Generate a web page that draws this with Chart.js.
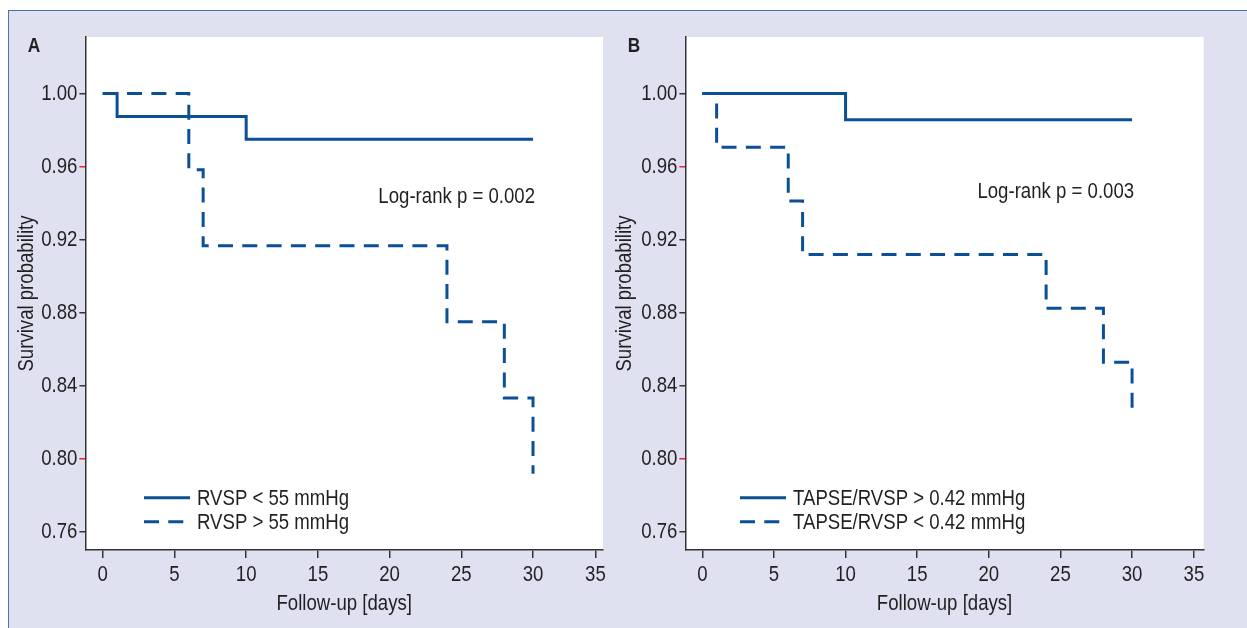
<!DOCTYPE html>
<html><head><meta charset="utf-8">
<script src="https://cdn.jsdelivr.net/npm/chart.js@4.4.0/dist/chart.umd.min.js"></script>
<style>
html,body{margin:0;padding:0;background:#fff;}
#page{position:relative;width:1247px;height:628px;overflow:hidden;background:#fff;}
#bg{position:absolute;left:8px;top:10px;right:0;bottom:0;background:#dfe1f0;border-left:1.5px solid #4a72b0;border-top:1.5px solid #4a72b0;}
canvas{position:absolute;top:0;}
#cA{left:0px;}
#cB{left:600px;}
</style></head>
<body><div id="page"><div id="bg"></div>
<canvas id="cA" width="620" height="628"></canvas>
<canvas id="cB" width="647" height="628"></canvas>
</div>
<script>
// ---- data ----
const xTickLabels = [0, 5, 10, 15, 20, 25, 30, 35];
const yTickValues = [0.76, 0.80, 0.84, 0.88, 0.92, 0.96, 1.00];
const redTickValues = [0.96, 0.80];

const daysA1 = [0, 1, 10, 30];
const survA1 = [1.0, 0.9875, 0.975, 0.975];
const daysA2 = [0, 6, 7, 24, 28, 30];
const survA2 = [1.0, 0.9583, 0.9167, 0.875, 0.8333, 0.7917];
const labelsA = ['RVSP < 55 mmHg', 'RVSP > 55 mmHg'];
const pTextA = 'Log-rank p = 0.002';

const daysB1 = [0, 10, 30];
const survB1 = [1.0, 0.9857, 0.9857];
const daysB2 = [0, 1, 6, 7, 24, 28, 30];
const survB2 = [1.0, 0.9706, 0.9412, 0.9118, 0.8824, 0.8529, 0.8235];
const labelsB = ['TAPSE/RVSP > 0.42 mmHg', 'TAPSE/RVSP < 0.42 mmHg'];
const pTextB = 'Log-rank p = 0.003';

// ---- styles ----
const FONT = "'Liberation Sans', Arial, sans-serif";
const FS = 21.5;
const CONDENSE = 0.865;
const TXT = '#231f20';
const LINE = '#0b4f96';
const AXIS = '#333333';

function pts(xs, ys) { return xs.map((x, i) => ({x: x, y: ys[i]})); }

// narrow-looking text: squeeze glyphs along the text direction
function condense(canvas, k) {
  const ctx = canvas.getContext('2d');
  const orig = ctx.fillText;
  ctx.fillText = function (t, x, y, maxW) {
    this.save();
    this.translate(x, y);
    this.scale(k, 1);
    if (maxW === undefined || maxW === null || !isFinite(maxW)) orig.call(this, t, 0, 0);
    else orig.call(this, t, 0, 0, maxW / k);
    this.restore();
  };
}

const panelPlugin = {
  id: 'panel',
  beforeDraw(chart, args, o) {
    const a = chart.chartArea, ctx = chart.ctx;
    ctx.save();
    ctx.fillStyle = '#ffffff';
    ctx.fillRect(a.left, a.top, a.right - a.left, a.bottom - a.top);
    ctx.restore();
  },
  afterDraw(chart, args, o) {
    const ctx = chart.ctx;
    ctx.save();
    ctx.fillStyle = TXT;
    ctx.font = "bold 20px " + FONT;
    ctx.textAlign = 'center';
    ctx.textBaseline = 'middle';
    ctx.fillText(o.letter, o.letterX, o.letterY);
    const xs = chart.scales.x, ys = chart.scales.y;
    ctx.font = FS + "px " + FONT;
    ctx.textAlign = 'right';
    ctx.fillText(o.pText, xs.getPixelForValue(o.pAt[0]) + o.pDx, ys.getPixelForValue(o.pAt[1]));
    chart.data.datasets.forEach((ds, i) => {
      const y = o.legY + i * o.legGap;
      ctx.beginPath();
      ctx.strokeStyle = ds.borderColor;
      ctx.lineWidth = ds.borderWidth;
      ctx.setLineDash(ds.borderDash || []);
      ctx.moveTo(o.legX, y);
      ctx.lineTo(o.legX + o.legLen, y);
      ctx.stroke();
      ctx.setLineDash([]);
      ctx.textAlign = 'left';
      ctx.fillStyle = TXT;
      ctx.fillText(ds.label, o.legX + o.legLen + 7, y + 1);
    });
    ctx.restore();
  }
};

function makeChart(id, d1, d2, labels, cfg) {
  const canvas = document.getElementById(id);
  condense(canvas, CONDENSE);
  return new Chart(canvas, {
    type: 'line',
    data: {
      datasets: [
        {label: labels[0], data: d1, borderColor: LINE, borderWidth: 3, pointRadius: 0, stepped: true, fill: false, borderCapStyle: 'butt'},
        {label: labels[1], data: d2, borderColor: LINE, borderWidth: 3, borderDash: [15, 9.3], pointRadius: 0, stepped: true, fill: false, borderCapStyle: 'butt'}
      ]
    },
    options: {
      responsive: false,
      animation: false,
      layout: {padding: {top: 37, right: cfg.padRight, bottom: 0, left: 0}},
      plugins: {
        legend: {display: false},
        tooltip: {enabled: false},
        panel: cfg.panel
      },
      scales: {
        x: {
          type: 'linear', min: cfg.xmin, max: cfg.xmax,
          afterFit: s => { s.height = 78; },
          afterBuildTicks: s => { s.ticks = xTickLabels.map(v => ({value: v === 35 ? cfg.x35 : v})); },
          ticks: {
            autoSkip: false, maxRotation: 0, padding: 4, color: TXT,
            font: {family: FONT, size: FS},
            callback: (v, i) => String(xTickLabels[i])
          },
          grid: {display: true, drawOnChartArea: false, drawTicks: true, tickLength: 8, color: AXIS, lineWidth: 1.5},
          border: {display: true, color: AXIS, width: 1.5},
          title: {display: true, text: 'Follow-up [days]', color: TXT, font: {family: FONT, size: FS}, padding: {top: 0, bottom: 11}}
        },
        y: {
          type: 'linear', min: 0.75, max: 1.031,
          afterFit: s => { s.width = 85.4; },
          afterBuildTicks: s => { s.ticks = yTickValues.map(v => ({value: v})); },
          ticks: {
            padding: 2, color: TXT, font: {family: FONT, size: FS},
            callback: v => Number(v).toFixed(2)
          },
          grid: {
            display: true, drawOnChartArea: false, drawTicks: true, tickLength: 6, lineWidth: 1.5,
            color: c => (c.tick && redTickValues.some(r => Math.abs(r - c.tick.value) < 1e-6)) ? '#e8262b' : AXIS
          },
          border: {display: true, color: AXIS, width: 1.5},
          title: {display: true, text: 'Survival probability', color: TXT, font: {family: FONT, size: FS}, padding: {top: cfg.ytPad, bottom: 0}}
        }
      }
    },
    plugins: [panelPlugin]
  });
}

makeChart('cA', pts(daysA1, survA1), pts(daysA2, survA2), labelsA, {
  padRight: 17, xmin: -1.21, xmax: 34.88, x35: 34.35, ytPad: 14.5,
  panel: {letter: 'A', letterX: 34, letterY: 46, pText: pTextA, pAt: [30, 0.9433], pDx: 2,
          legX: 144, legY: 497.7, legGap: 24, legLen: 46}
});
makeChart('cB', pts(daysB1, survB1), pts(daysB2, survB2), labelsB, {
  padRight: 43.3, xmin: -1.18, xmax: 35.0, x35: 34.32, ytPad: 12.4,
  panel: {letter: 'B', letterX: 34, letterY: 46, pText: pTextB, pAt: [30, 0.9462], pDx: 2,
          legX: 140, legY: 497.7, legGap: 24, legLen: 46}
});
</script>
</body></html>
